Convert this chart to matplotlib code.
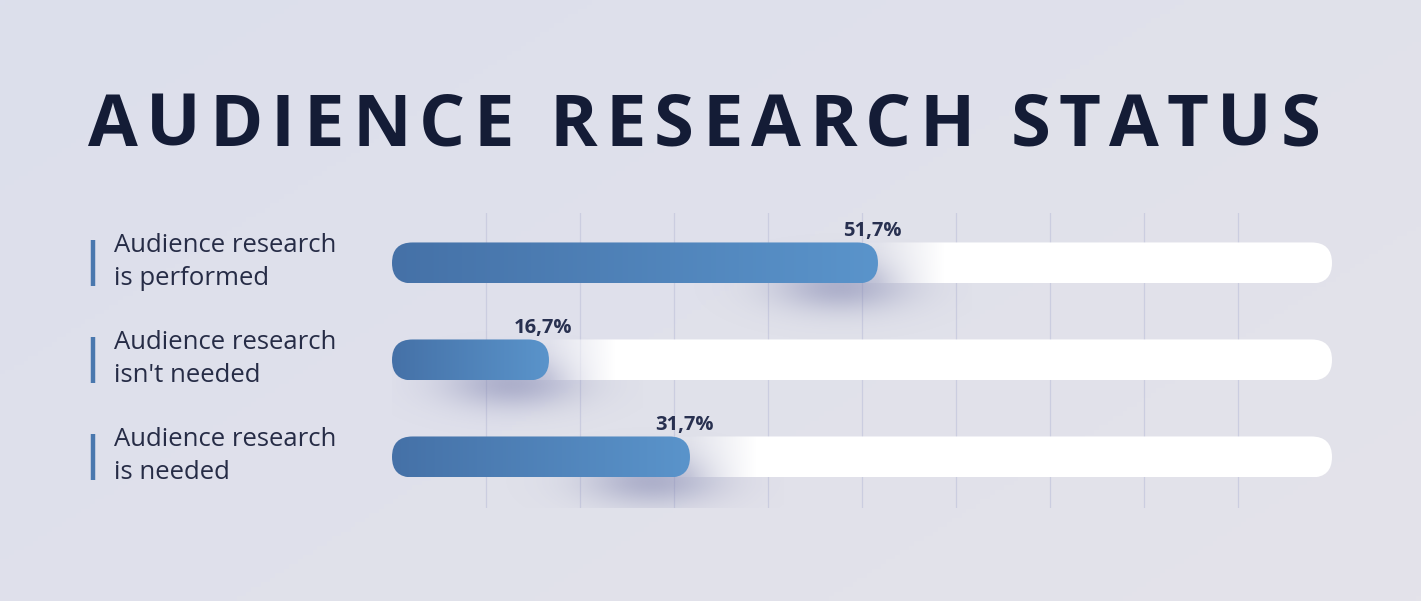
import numpy as np
import matplotlib
matplotlib.use("Agg")
import matplotlib.pyplot as plt
from matplotlib.patches import FancyBboxPatch
from matplotlib.colors import to_rgb
import matplotlib.transforms as mtransforms

# data
categories = ["Audience research\nis performed",
              "Audience research\nisn't needed",
              "Audience research\nis needed"]
values = [51.7, 16.7, 31.7]
value_labels = ["51,7%", "16,7%", "31,7%"]
title = "AUDIENCE RESEARCH STATUS"

W, H, DPI = 1421, 601, 100
fig = plt.figure(figsize=(W / DPI, H / DPI), dpi=DPI)

# background gradient
bg = fig.add_axes([0, 0, 1, 1], zorder=-5)
bg.axis("off")
c1 = np.array(to_rgb("#DCDFEC"))
c2 = np.array(to_rgb("#E4E3EA"))
gx, gy = np.meshgrid(np.linspace(0, 1, 300), np.linspace(0, 1, 130))
t = np.clip(0.6 * gx + 0.4 * gy, 0, 1)[..., None]
bg.imshow(c1 * (1 - t) + c2 * t, extent=(0, 1, 0, 1), aspect="auto", origin="upper")

# main axes: 0..100 % across the track
ax_l, ax_b, ax_w, ax_h = 392, 93, 940, 295
ax = fig.add_axes([ax_l / W, ax_b / H, ax_w / W, ax_h / H])
ax.axis("off")
ylim = (2.526, -0.515)
px_x = ax_w / 100.0
px_y = ax_h / (ylim[0] - ylim[1])
aspect = px_x / px_y
bar_h = 41 / px_y
rad = 20.5 / px_x

for g in range(10, 100, 10):
    ax.axvline(g, color="#CBCDE0", lw=0.9, zorder=1)

bar_left = np.array(to_rgb("#4571A7"))
bar_right = np.array(to_rgb("#5A94CB"))
shadow_rgb = np.array(to_rgb("#7C80AC"))

for i, (v, lab) in enumerate(zip(values, value_labels)):
    y = i
    # soft shadow under the bar end
    xs = np.linspace(v - 22, v + 10, 260)
    ys = np.linspace(y - 0.45, y + 0.9, 130)
    X, Y = np.meshgrid(xs, ys)
    a = 0.5 * np.exp(-((X - (v - 4.0)) / 5.0) ** 2 / 2 - ((Y - (y + 0.25)) / 0.18) ** 2 / 2)
    img = np.zeros(X.shape + (4,))
    img[..., :3] = shadow_rgb
    img[..., 3] = a
    ax.imshow(img, extent=(xs[0], xs[-1], ys[0], ys[-1]), origin="lower",
              aspect="auto", zorder=2, interpolation="bilinear")

    # white track with fade after the bar end
    track = FancyBboxPatch((0, y - bar_h / 2), 100, bar_h,
                           boxstyle=f"round,pad=0,rounding_size={rad}",
                           mutation_aspect=aspect, facecolor="none",
                           edgecolor="none", transform=ax.transData)
    ax.add_patch(track)
    tx = np.linspace(0, 100, 1000)
    alpha = np.clip((tx - v) / 7.0, 0, 1) * 0.9 + 0.1
    timg = np.ones((2, tx.size, 4))
    timg[..., 3] = alpha
    im = ax.imshow(timg, extent=(0, 100, y - bar_h / 2, y + bar_h / 2),
                   origin="lower", aspect="auto", zorder=3, interpolation="bilinear")
    im.set_clip_path(track)

    # gradient bar
    bar = FancyBboxPatch((0, y - bar_h / 2), v, bar_h,
                         boxstyle=f"round,pad=0,rounding_size={rad}",
                         mutation_aspect=aspect, facecolor="none",
                         edgecolor="none", transform=ax.transData)
    ax.add_patch(bar)
    k = np.linspace(0, 1, 300)[:, None]
    gimg = (bar_left * (1 - k) + bar_right * k)[None, :, :].repeat(2, axis=0)
    im = ax.imshow(gimg, extent=(0, v, y - bar_h / 2, y + bar_h / 2),
                   origin="lower", aspect="auto", zorder=4, interpolation="bilinear")
    im.set_clip_path(bar)

    ax.text(v - 0.6, y - bar_h / 2 - 6 / px_y, lab, ha="center", va="baseline",
            fontsize=14.5, fontweight="bold", color="#283050", family="Open Sans", zorder=6)

ax.set_xlim(0, 100)
ax.set_ylim(*ylim)

# category labels with small blue markers
trans = mtransforms.blended_transform_factory(ax.transAxes, ax.transData)
for i, cat in enumerate(categories):
    ax.plot([(93 - ax_l) / ax_w] * 2, [i - 0.24, i + 0.24], transform=trans,
            color="#4A78AE", lw=3.2, solid_capstyle="butt", clip_on=False)
    ax.text((114 - ax_l) / ax_w, i - 0.01, cat, transform=trans, ha="left",
            va="center", fontsize=18.5, color="#262C46", family="Open Sans",
            linespacing=1.38, clip_on=False)

# title with wide letter spacing
renderer = fig.canvas.get_renderer()
tkw = dict(fontsize=52, fontweight="bold", color="#141C36", family="Open Sans")


def text_w(s):
    tt = fig.text(0, 0, s, **tkw)
    w = tt.get_window_extent(renderer).width
    tt.remove()
    return w


sp = text_w("A A") - text_w("AA")
widths = [sp if ch == " " else text_w(ch) for ch in title]
x0, x1 = 88, 1320
gap = (x1 - x0 - sum(widths)) / (len(title) - 1)
x = x0
for ch, w in zip(title, widths):
    if ch != " ":
        fig.text(x / W, 1 - 146 / H, ch, ha="left", va="baseline", **tkw)
    x += w + gap

fig.savefig("out.png", dpi=DPI)
